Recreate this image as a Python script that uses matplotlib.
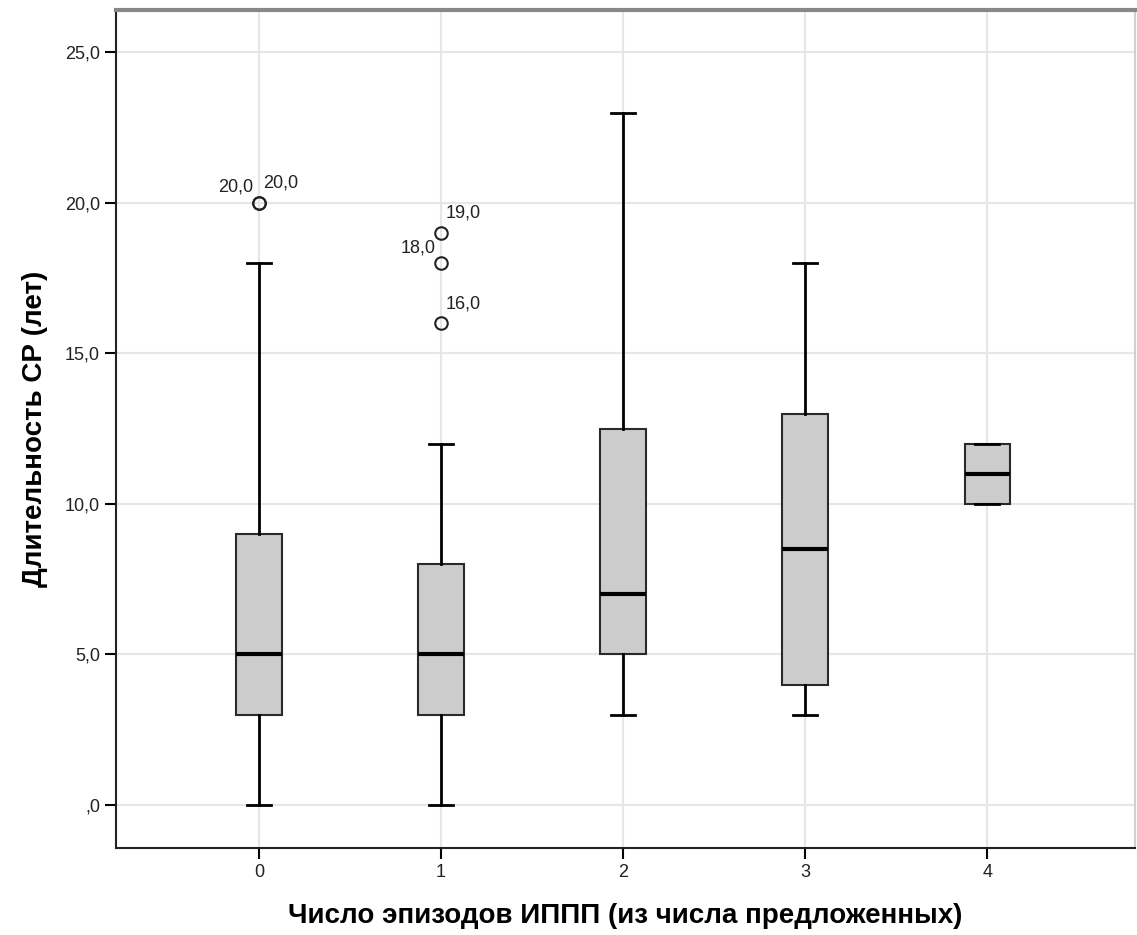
import numpy as np
import matplotlib.pyplot as plt

plt.rcParams['font.family'] = ['Liberation Sans', 'DejaVu Sans']

groups = ['0', '1', '2', '3', '4']
whislo = [0, 0, 3, 3, 10]
q1 = [3, 3, 5, 4, 10]
med = [5, 5, 7, 8.5, 11]
q3 = [9, 8, 12.5, 13, 12]
whishi = [18, 12, 23, 18, 12]
fliers = [[20, 20], [16, 18, 19], [], [], []]
# outlier labels: (group, value, text, side)
outlier_labels = [(0, 20, '20,0', 'left'), (0, 20, '20,0', 'right'),
                  (1, 19, '19,0', 'right'), (1, 18, '18,0', 'left'),
                  (1, 16, '16,0', 'right')]

stats = []
for i in range(len(groups)):
    stats.append(dict(whislo=whislo[i], q1=q1[i], med=med[i], q3=q3[i],
                      whishi=whishi[i], fliers=fliers[i], label=groups[i]))

fig = plt.figure(figsize=(11.37, 9.35), dpi=100)
ax = fig.add_axes([0.102, 0.093, 0.896, 0.896])

ax.set_axisbelow(True)
ax.grid(True, color='#e6e6e6', linewidth=1.5)

ax.bxp(stats, positions=range(len(groups)), widths=0.25, patch_artist=True,
       boxprops=dict(facecolor='#cccccc', edgecolor='#2a2a2a', linewidth=1.5),
       medianprops=dict(color='black', linewidth=3),
       whiskerprops=dict(color='black', linewidth=2),
       capprops=dict(color='black', linewidth=2),
       capwidths=0.13,
       flierprops=dict(marker='o', markerfacecolor='none', markeredgecolor='#222222',
                       markersize=9, markeredgewidth=1.5))

for g, v, txt, side in outlier_labels:
    if side == 'left':
        off, ha = (-4, 5), 'right'
    else:
        off, ha = (3, 8), 'left'
    ax.annotate(txt, (g, v), xytext=off, textcoords='offset points',
                ha=ha, va='bottom', fontsize=13, color='#222222')

ax.set_xlim(-0.786, 4.81)
ax.set_ylim(-1.43, 26.4)
ax.set_yticks([0, 5, 10, 15, 20, 25])
ax.set_yticklabels([',0', '5,0', '10,0', '15,0', '20,0', '25,0'])
ax.set_xticks(range(len(groups)))
ax.set_xticklabels(groups)
ax.tick_params(axis='both', labelsize=13, length=8, width=1.5, colors='black',
               labelcolor='#222222')

for s in ['left', 'bottom']:
    ax.spines[s].set_color('#222222')
    ax.spines[s].set_linewidth(1.5)
ax.spines['top'].set_color('#888888')
ax.spines['top'].set_linewidth(3)
ax.spines['right'].set_color('#d0d0d0')
ax.spines['right'].set_linewidth(1.5)

ax.set_ylabel('Длительность СР (лет)', fontsize=20, fontweight='bold', labelpad=12)
ax.set_xlabel('Число эпизодов ИППП (из числа предложенных)', fontsize=20,
              fontweight='bold', labelpad=16)

fig.savefig('out.png', dpi=100)
